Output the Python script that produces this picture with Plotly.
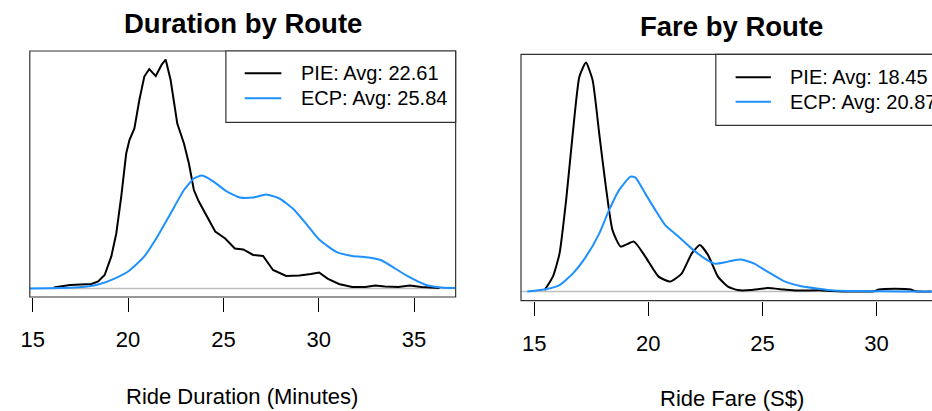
import plotly.graph_objects as go

# ---------------- data ----------------
route_names = ["PIE", "ECP"]
route_colors = ["black", "#1E90FF"]

duration_avg = [22.61, 25.84]
fare_avg = [18.45, 20.87]

# Ride duration density (minutes -> density)
dur_pie_x = [16.1, 16.5, 16.96, 18.08, 18.43, 18.77, 19.12, 19.38, 19.64, 19.9, 20.07, 20.33, 20.59, 20.85,
             21.11, 21.45, 21.75, 21.97, 22.23, 22.58, 22.93, 23.19, 23.45, 23.71, 24.14, 24.57, 25.09,
             25.6, 26.04, 26.56, 27.08, 27.6, 28.29, 28.98, 29.59, 30.02, 30.46, 31.06, 31.75, 32.44,
             32.96, 33.48, 34.17, 34.78, 35.39, 36.34]
dur_pie_y = [0.0010, 0.0025, 0.0035, 0.0046, 0.0071, 0.0137, 0.0325, 0.0558, 0.0933, 0.1369, 0.1506, 0.1623,
             0.1912, 0.2150, 0.2226, 0.2155, 0.2267, 0.2323, 0.2115, 0.1673, 0.1471, 0.1268, 0.0999, 0.0882,
             0.0730, 0.0578, 0.0507, 0.0406, 0.0396, 0.0340, 0.0330, 0.0188, 0.0127, 0.0132, 0.0147, 0.0162,
             0.0101, 0.0046, 0.0015, 0.0015, 0.0030, 0.0020, 0.0015, 0.0030, 0.0015, 0.0005]

dur_ecp_x = [14.84, 17.22, 18.43, 19.29, 20.07, 20.85, 21.54, 22.23, 22.93, 23.45, 23.88, 24.48, 25.18,
             25.87, 26.56, 27.25, 27.94, 28.64, 29.33, 30.02, 30.89, 31.75, 32.62, 33.31, 34.0, 34.69,
             35.56, 36.43, 37.17]
dur_ecp_y = [0.0000, 0.0010, 0.0041, 0.0101, 0.0183, 0.0325, 0.0527, 0.0761, 0.0999, 0.1116, 0.1146, 0.1085,
             0.0984, 0.0923, 0.0923, 0.0953, 0.0913, 0.0811, 0.0659, 0.0497, 0.0375, 0.0330, 0.0314, 0.0284,
             0.0203, 0.0122, 0.0041, 0.0010, 0.0005]

# Ride fare density (S$ -> density)
fare_pie_x = [15.46, 15.82, 16.11, 16.4, 16.69, 16.98, 17.27, 17.56, 17.85, 18.14, 18.43, 18.79, 19.37,
              19.87, 20.45, 20.96, 21.46, 21.9, 22.26, 22.62, 23.05, 23.49, 23.92, 24.5, 25.22, 25.95,
              26.5, 27.5, 28.0, 28.5, 29.5, 29.9, 30.1, 30.8, 31.5, 31.7, 32.4]
fare_pie_y = [0.0029, 0.0285, 0.0722, 0.1740, 0.3004, 0.4087, 0.4354, 0.4021, 0.3004, 0.1996, 0.1169,
              0.0856, 0.0951, 0.0665, 0.0285, 0.0190, 0.0342, 0.0722, 0.0884, 0.0694, 0.0285, 0.0095,
              0.0029, 0.0029, 0.0067, 0.0038, 0.0019, 0.0025, 0.0010, 0.0002, 0.0001, 0.0005, 0.0040,
              0.0055, 0.0040, 0.0005, 0.0000]

fare_ecp_x = [14.7, 15.54, 16.11, 16.69, 17.27, 17.85, 18.28, 18.72, 19.22, 19.44, 19.87, 20.31, 20.74,
              21.32, 21.9, 22.48, 22.91, 23.49, 24.06, 24.64, 25.22, 25.94, 26.66, 27.39, 28.11, 29.56,
              31.0, 33.0]
fare_ecp_y = [0.0000, 0.0048, 0.0124, 0.0342, 0.0665, 0.1103, 0.1549, 0.1930, 0.2186, 0.2167, 0.1863,
              0.1549, 0.1264, 0.1046, 0.0817, 0.0627, 0.0532, 0.0570, 0.0608, 0.0532, 0.0380, 0.0200,
              0.0105, 0.0057, 0.0019, 0.0006, 0.0004, 0.0002]

x_tick_vals = [15, 20, 25, 30, 35]
x_tick_text = ["15", "20", "25", "30", "35"]

titles = ["Duration by Route", "Fare by Route"]
x_titles = ["Ride Duration (Minutes)", "Ride Fare (S$)"]

# ---------------- figure ----------------
W, H = 932, 411
FONT = "Liberation Sans, Arial, sans-serif"


def px(x):
    return x / W


def py(y):
    return 1 - y / H


fig = go.Figure()

panels = [
    dict(xa="x", ya="y", series=[(dur_pie_x, dur_pie_y), (dur_ecp_x, dur_ecp_y)], shapes=["linear", "spline"]),
    dict(xa="x2", ya="y2", series=[(fare_pie_x, fare_pie_y), (fare_ecp_x, fare_ecp_y)], shapes=["spline", "spline"]),
]

for p in panels:
    for (xs, ys), name, col, shp in zip(p["series"], route_names, route_colors, p["shapes"]):
        line = dict(color=col, width=2, shape=shp)
        if shp == "spline":
            line["smoothing"] = 0.5
        fig.add_trace(go.Scatter(x=xs, y=ys, mode="lines", name=name, xaxis=p["xa"], yaxis=p["ya"],
                                 line=line, showlegend=False, hoverinfo="skip"))

axis_common = dict(showgrid=False, zeroline=False, showline=False, ticks="outside", ticklen=14,
                   tickwidth=1, tickcolor="black", tickvals=x_tick_vals, ticktext=x_tick_text,
                   tickfont=dict(family=FONT, size=22, color="black"), ticklabelstandoff=9)
yaxis_common = dict(showgrid=False, zeroline=False, showline=False, showticklabels=False, ticks="")

# geometry (pixels)
L = dict(left=21, right=451, top=51, bottom=297, range=[14.844, 37.18], yr=[-0.00862, 0.24092])
R = dict(left=517, right=943, top=54.3, bottom=300.7, range=[14.423, 32.43], yr=[-0.0173, 0.4512])

fig.update_layout(
    width=W, height=H, margin=dict(l=0, r=0, t=0, b=0),
    paper_bgcolor="white", plot_bgcolor="white", showlegend=False,
    xaxis=dict(domain=[px(L["left"]), px(L["right"])], range=L["range"], anchor="y", **axis_common),
    yaxis=dict(domain=[py(L["bottom"]), py(L["top"])], range=L["yr"], anchor="x", **yaxis_common),
    xaxis2=dict(domain=[px(R["left"]), 1.0], range=R["range"], anchor="y2", **axis_common),
    yaxis2=dict(domain=[py(R["bottom"]), py(R["top"])], range=R["yr"], anchor="x2", **yaxis_common),
)

shapes = []
annotations = []

# zero lines
for xa, ya in [("x", "y"), ("x2", "y2")]:
    shapes.append(dict(type="line", xref=f"{xa} domain", yref=ya, x0=0, x1=1, y0=0, y1=0,
                       line=dict(color="#BEBEBE", width=1.5), layer="below"))

# plot boxes
for g in (L, R):
    shapes.append(dict(type="rect", xref="paper", yref="paper", x0=px(g["left"]), x1=px(g["right"]),
                       y0=py(g["bottom"]), y1=py(g["top"]), line=dict(color="#333333", width=1.2)))

# titles
annotations.append(dict(text=f"<b>{titles[0]}</b>", x=px(236), y=py(23.5), xref="paper", yref="paper",
                        showarrow=False, xanchor="center", yanchor="middle",
                        font=dict(family=FONT, size=27.5, color="black")))
annotations.append(dict(text=f"<b>{titles[1]}</b>", x=px(729.8), y=py(26), xref="paper", yref="paper",
                        showarrow=False, xanchor="center", yanchor="middle",
                        font=dict(family=FONT, size=27.5, color="black")))
annotations.append(dict(text=x_titles[0], x=px(235), y=py(396), xref="paper", yref="paper",
                        showarrow=False, xanchor="center", yanchor="middle",
                        font=dict(family=FONT, size=22, color="black")))
annotations.append(dict(text=x_titles[1], x=px(730), y=py(398), xref="paper", yref="paper",
                        showarrow=False, xanchor="center", yanchor="middle",
                        font=dict(family=FONT, size=22, color="black")))

# legends
legends = [
    dict(box=(219, 451, 51, 122.3), line=(238, 275), text_x=292.7, rows=(73.3, 98.3), avg=duration_avg),
    dict(box=(713.7, 943, 54.3, 125.3), line=(733.7, 769.3), text_x=787, rows=(77.3, 101.7), avg=fare_avg),
]
for lg in legends:
    x0, x1, y0, y1 = lg["box"]
    shapes.append(dict(type="rect", xref="paper", yref="paper", x0=px(x0), x1=px(x1), y0=py(y1), y1=py(y0),
                       line=dict(color="#333333", width=1.2), fillcolor="white"))
    for name, col, avg, ry in zip(route_names, route_colors, lg["avg"], lg["rows"]):
        shapes.append(dict(type="line", xref="paper", yref="paper", x0=px(lg["line"][0]), x1=px(lg["line"][1]),
                           y0=py(ry), y1=py(ry), line=dict(color=col, width=2)))
        annotations.append(dict(text=f"{name}: Avg: {avg:.2f}", x=px(lg["text_x"]), y=py(ry),
                                xref="paper", yref="paper", showarrow=False, xanchor="left",
                                yanchor="middle", font=dict(family=FONT, size=20, color="black")))

fig.update_layout(shapes=shapes, annotations=annotations)

fig.write_html("out.html", config={"displayModeBar": False},
               post_script="document.body.style.margin='0';document.body.style.overflow='hidden';")
